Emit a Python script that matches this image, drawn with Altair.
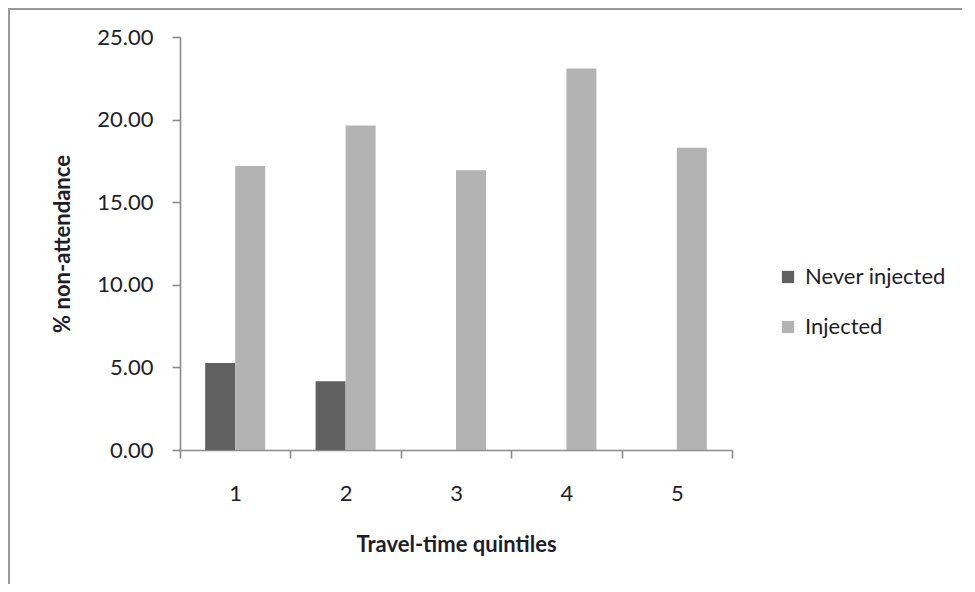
import altair as alt
import pandas as pd

quintiles = ["1", "2", "3", "4", "5"]
never_injected = [5.27, 4.16, 0.0, 0.0, 0.0]
injected = [17.19, 19.65, 16.93, 23.10, 18.30]
series = ["Never injected", "Injected"]
colors = ["#606060", "#b3b3b3"]
y_ticks = [0, 5, 10, 15, 20, 25]

rows = []
for q, a, b in zip(quintiles, never_injected, injected):
    rows.append({"quintile": q, "series": series[0], "value": a})
    rows.append({"quintile": q, "series": series[1], "value": b})
df = pd.DataFrame(rows)

FONT = "Lato"
TXT = "#1e1e2a"
AX = "#8a8a8a"

bars = alt.Chart(df).mark_bar().encode(
    x=alt.X(
        "quintile:N",
        sort=quintiles,
        scale=alt.Scale(paddingInner=0, paddingOuter=0),
        axis=alt.Axis(
            title="Travel-time quintiles",
            labelAngle=0,
            tickBand="extent",
            tickSize=8,
            labelPadding=25,
            titlePadding=30,
        ),
    ),
    xOffset=alt.XOffset(
        "series:N", sort=series, scale=alt.Scale(paddingInner=0, paddingOuter=0.84)
    ),
    y=alt.Y(
        "value:Q",
        scale=alt.Scale(domain=[0, 25], nice=False),
        axis=alt.Axis(
            title="% non-attendance",
            values=y_ticks,
            format=".2f",
            tickSize=8,
            labelPadding=19,
            titlePadding=22,
            grid=False,
        ),
    ),
    color=alt.Color(
        "series:N",
        sort=series,
        scale=alt.Scale(domain=series, range=colors),
        legend=alt.Legend(
            title=None,
            orient="none",
            legendX=597,
            legendY=229,
            symbolType="square",
            symbolSize=150,
            symbolStrokeWidth=0,
            labelFontSize=22,
            labelFont=FONT,
            labelColor=TXT,
            rowPadding=28,
            labelOffset=6,
            padding=0,
        ),
    ),
)

border = alt.Chart(pd.DataFrame({"a": [0]})).mark_rect(
    fill=None, stroke="#9a9a9a", strokeWidth=2, clip=False
).encode(
    x=alt.value(-171),
    x2=alt.value(900),
    y=alt.value(-28),
    y2=alt.value(700),
)

chart = (
    alt.layer(border, bars)
    .properties(
        width=552,
        height=413,
        autosize=alt.AutoSizeParams(type="none"),
        padding={"left": 172, "top": 29, "right": 230, "bottom": 134},
        background="white",
    )
    .configure_view(stroke=None)
    .configure_axis(
        labelFont=FONT,
        titleFont=FONT,
        labelFontSize=22,
        titleFontSize=22,
        titleFontWeight="bold",
        labelColor=TXT,
        titleColor=TXT,
        domainColor=AX,
        tickColor=AX,
        domainWidth=1.6,
        tickWidth=1.6,
    )
)

chart.save("out.html", embed_options={"renderer": "svg", "actions": False})
